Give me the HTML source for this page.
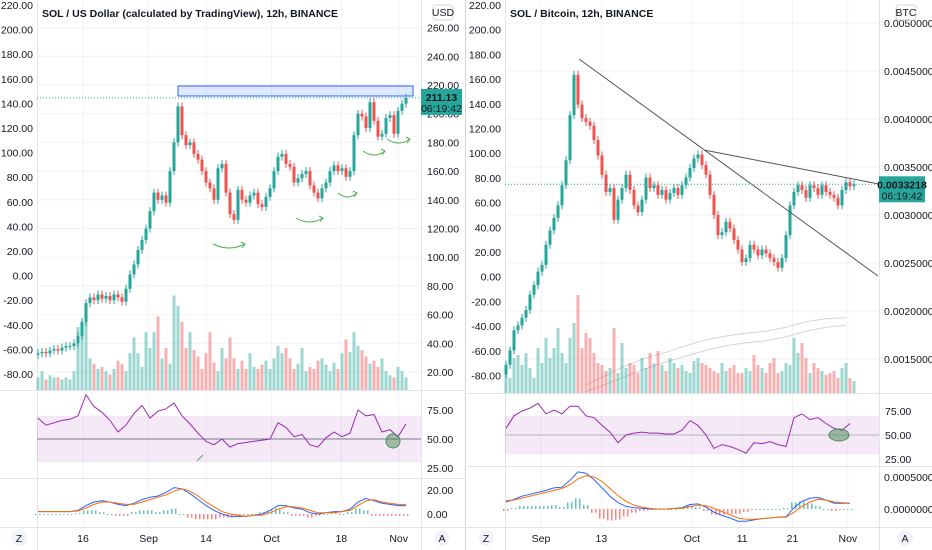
<!DOCTYPE html>
<html><head><meta charset="utf-8">
<style>
html,body{margin:0;padding:0;background:#fff;}
svg{display:block;font-family:"Liberation Sans",sans-serif;}
text{fill:#131722;font-size:10.5px;}
</style></head>
<body>
<svg id="chart" width="932" height="550" viewBox="0 0 932 550"></svg>
<script>
// ---------- DATA ----------
const leftAxisTicks = [220,200,180,160,140,120,100,80,60,40,20,0,-20,-40,-60,-80];
const usdTicks = [260,240,220,200,180,160,140,120,100,80,60,40,20];
const btcTicks = [50,45,40,35,30,25,20,15];
const timeLabelsL = ["16","Sep","14","Oct","18","Nov"];
const timeDaysL = [16,32,46,62,79,93];
const timeLabelsR = ["Sep","13","Oct","11","21","Nov"];
const timeDaysR = [8,20,38,48,58,69];
const closeUSD = [33,34,33,35,36,35,37,38,38,40,45,55,68,72,70,74,71,73,70,74,72,69,78,88,95,105,112,120,132,145,140,143,138,160,180,205,185,178,180,172,168,160,152,148,140,162,165,145,130,126,147,140,138,143,145,137,135,142,148,160,170,172,165,163,152,155,158,160,150,145,141,148,152,160,164,160,162,156,160,185,200,198,190,208,195,184,186,197,199,186,202,207,211];
const volUSD = [12,18,10,14,12,12,10,12,10,18,60,62,70,30,25,20,22,18,15,20,28,25,18,35,50,35,22,55,40,55,70,30,40,25,90,80,65,40,55,38,32,20,35,55,26,18,40,30,50,30,20,28,20,35,22,20,24,28,20,30,42,35,40,30,20,25,40,18,22,20,28,30,24,18,26,20,35,48,36,55,42,38,32,25,28,22,30,18,14,12,22,18,12];
const rsiL = [68,62,64,66,67,70,88,78,73,66,56,62,72,79,68,74,76,81,70,63,55,48,45,50,43,46,47,48,49,50,64,60,52,54,45,43,51,56,52,55,75,70,71,56,58,52,63];
const macdL = [2,2,2,2,2,3,7,10,11,10,8,7,9,12,14,15,18,22,21,17,12,7,3,0,-2,-2,-2,-1,0,3,7,7,5,4,1,0,1,2,2,4,10,13,11,9,8,7,7];
const signalL = [2,2,2,2,2,2.5,5,8,10,10,9,8,8,10,12,14,16,19,21,19,15,10,6,2,0,-1,-2,-1,-1,1,4,6,6,5,3,1,1,1,2,3,7,11,12,10,9,8,8];
const closeBTC = [14.4,15.9,18.0,18.5,19.3,20.1,21.7,22.7,24.1,24.8,26.9,28.4,29.7,31.0,33.1,35.7,40.4,44.6,41.5,40.1,39.7,39.3,37.8,36.2,34.2,32.4,32.8,29.5,31.6,32.8,34.2,32.6,31.0,30.3,31.6,33.9,32.8,33.1,32.1,32.6,31.6,32.3,32.8,32.1,33.1,33.9,34.9,35.9,36.3,35.2,34.2,32.1,30.0,27.9,28.2,29.3,28.6,27.4,26.4,25.1,25.5,26.9,26.4,25.8,26.4,26.0,25.5,25.1,24.5,25.5,27.9,31.0,32.4,33.1,32.6,31.8,33.1,32.8,32.1,33.1,32.4,32.1,31.8,31.0,32.6,33.4,33.0,33.2];
const volBTC = [20,15,35,38,28,40,25,15,45,30,55,35,45,65,40,30,55,70,98,45,60,55,40,30,28,22,25,65,20,50,25,30,28,20,35,25,40,30,42,28,22,35,30,25,28,22,20,32,35,30,28,25,22,20,30,22,25,28,20,20,25,22,38,28,25,20,30,35,20,22,30,28,55,40,50,35,20,30,25,22,18,20,22,15,25,30,15,12];
const maA = [12.3,13.3,14.3,15.1,15.7,16.4,17.0,17.4,17.7,17.9,18.3,18.9,19.2,19.3];
const maB = [11.6,12.4,13.2,14.0,14.7,15.3,15.9,16.4,16.7,16.9,17.3,17.9,18.3,18.5];
const rsiR = [57,70,75,78,83,72,76,72,80,80,70,68,60,53,42,50,52,53,52,52,51,51,55,65,60,50,36,40,38,35,31,42,41,43,40,38,68,72,66,68,62,57,55,62];
const macdR = [1.1,1.5,2.0,2.3,2.6,2.9,3.3,3.4,4.5,5.8,5.6,4.6,3.3,2.0,1.0,0.4,0.2,0.1,0.0,0.0,0.0,0.1,0.2,0.7,0.8,0.3,-0.5,-1.0,-1.4,-1.9,-1.9,-1.7,-1.5,-1.4,-1.3,-1.2,0.2,1.2,1.7,1.8,1.4,0.9,0.9,0.9];
const signalR = [1.3,1.4,1.7,2.0,2.3,2.6,2.9,3.2,3.8,4.7,5.2,5.0,4.3,3.2,2.1,1.2,0.6,0.3,0.1,0.0,0.0,0.1,0.1,0.4,0.6,0.5,0.1,-0.4,-0.9,-1.4,-1.6,-1.6,-1.5,-1.4,-1.3,-1.3,-0.5,0.4,1.1,1.5,1.4,1.1,1.0,0.9];

// ---------- HELPERS ----------
const svg = document.getElementById('chart');
const NS = 'http://www.w3.org/2000/svg';
function mk(tag, attrs, parent){
  const e = document.createElementNS(NS, tag);
  for (const k in attrs) e.setAttribute(k, attrs[k]);
  (parent||svg).appendChild(e);
  return e;
}
function txt(x,y,s,anchor,extra){
  const t = mk('text', Object.assign({x:x,y:y,'text-anchor':anchor||'start'}, extra||{}));
  t.textContent = s; return t;
}
const GREEN='#26a69a', RED='#ef5350';

const leftLblY = v => 5 + (220 - v) * 24.6 / 20;
const yL = p => 85 + (220 - p) * 1.435;
const xL = i => 38 + 4 * i;
const xLi = i => 38 + 8 * i;
const dayXL = d => 83 + (d - 16) * 4.1;
const rsiYL = v => 439 - (v - 50) * 1.16;
const macdYL = v => 514 - v * 1.2;
const yR = p => 23 + (50 - p) * 9.6;
const xR = i => 506 + 4 * i;
const xRi = i => 506 + 8 * i;
const maX = i => 586 + 20 * i;
const dayXR = d => 541 + (d - 8) * 5.03;
const rsiYR = v => 435 - (v - 50) * 0.96;
const macdYR = v => 509 - v * 6.4;

function drawCandles(close, xf, yf, volBase, volScale, vol, name){
  for (let i=0;i<close.length;i++){
    const o = i===0 ? close[0]-1 : close[i-1];
    const c = close[i];
    const up = c >= o;
    const col = up ? GREEN : RED;
    const x = xf(i);
    const vb = mk('rect',{x:x-1.5,y:volBase-vol[i]*volScale,width:3,height:vol[i]*volScale,fill:col,'fill-opacity':0.45});
    
    
    const yo = yf(o), yc = yf(c);
    const top = Math.min(yo,yc), bot = Math.max(yo,yc);
    const w = mk('line',{x1:x,x2:x,y1:top-4,y2:bot+4,stroke:col,'stroke-width':1});
    
    
    const b = mk('rect',{x:x-1.5,y:top,width:3,height:Math.max(1,bot-top),fill:col});
    
    
  }
}
function polyline(vals, xf, yf, stroke, width, name){
  const pts = vals.map((v,i)=>xf(i).toFixed(1)+','+yf(v).toFixed(1)).join(' ');
  const p = mk('polyline',{points:pts,fill:'none',stroke:stroke,'stroke-width':width});
  
  
}
function hist(m, s, xf, yf, name){
  for (let i=0;i<m.length;i++){
    const d = (m[i]-s[i])*1.5;
    const y0 = yf(0), y1 = yf(d);
    for (let k=0;k<2;k++){
      const r = mk('rect',{x:xf(i)-3+k*4,y:Math.min(y0,y1),width:1.5,height:Math.max(1,Math.abs(y1-y0)),fill:d>=0?GREEN:RED,'fill-opacity':0.7});
      
      
    }
  }
}

// ---------- LEFT PANEL ----------
(function(){
  usdTicks.forEach(v=>mk('line',{x1:37,x2:421,y1:yL(v),y2:yL(v),stroke:'#f0f3fa'}));
  timeDaysL.forEach(d=>mk('line',{x1:dayXL(d),x2:dayXL(d),y1:0,y2:527,stroke:'#f0f3fa'}));
  mk('line',{x1:421.5,x2:421.5,y1:0,y2:550,stroke:'#e0e3eb'});
  mk('line',{x1:37.5,x2:37.5,y1:0,y2:550,stroke:'#e0e3eb'});
  [390,478,527].forEach(y=>mk('line',{x1:0,x2:466,y1:y+.5,y2:y+.5,stroke:'#e0e3eb'}));
  mk('line',{x1:465.5,x2:465.5,y1:0,y2:550,stroke:'#d1d4dc'});
  leftAxisTicks.forEach(v=>txt(33,leftLblY(v)+4,v.toFixed(2),'end',{fill:'#444','font-size':'10px'}));
  usdTicks.forEach(v=>txt(427,yL(v)+4,v.toFixed(2)));
  const usd = mk('rect',{x:433,y:5,width:20,height:15,rx:3,fill:'#fff',stroke:'#d1d4dc'});
   
  txt(443,16,'USD','middle',{'font-size':'9px'});
  txt(42,17,'SOL / US Dollar (calculated by TradingView), 12h, BINANCE','start',{'font-size':'10px','font-weight':'bold',});
  const box = mk('rect',{x:178,y:86,width:235,height:10,fill:'rgba(41,98,255,0.15)',stroke:'#2962ff','stroke-width':1});
   
  drawCandles(closeUSD, xL, yL, 390, 1.05, volUSD, 'usd');
  const pl = yL(closeUSD[closeUSD.length-1]);
  mk('line',{x1:37,x2:421,y1:pl,y2:pl,stroke:GREEN,'stroke-dasharray':'1,2'});
  const tag = mk('rect',{x:421,y:pl-9,width:41,height:26,fill:GREEN});
   
  txt(441.5,pl+3,'211.13','middle',{fill:'#fff','font-size':'10px','font-weight':'bold'});
  txt(441.5,pl+14,'06:19:42','middle',{fill:'#fff','font-size':'9.5px'});
  [[213,245,248],[296,323,222],[338,357,197],[363,385,155],[387,410,143]].forEach(a=>{
    mk('path',{d:`M${a[0]},${a[2]-4} Q${(a[0]+a[1])/2},${a[2]+4} ${a[1]},${a[2]-4}`,fill:'none',stroke:'#4caf50','stroke-width':1});
    mk('path',{d:`M${a[1]-4},${a[2]-6} L${a[1]},${a[2]-4} L${a[1]-3},${a[2]}`,fill:'none',stroke:'#4caf50','stroke-width':1});
  });
  mk('rect',{x:37,y:rsiYL(70),width:384,height:rsiYL(30)-rsiYL(70),fill:'rgba(156,39,176,0.1)'});
  mk('line',{x1:37,x2:421,y1:rsiYL(50),y2:rsiYL(50),stroke:'#787b86'});
  polyline(rsiL, xLi, rsiYL, '#9c27b0', 1, 'rsi-line-left');
  [75,50,25].forEach(v=>txt(427,rsiYL(v)+4,v.toFixed(2)));
  mk('circle',{cx:393,cy:441,r:7,fill:'rgba(76,140,90,0.5)',stroke:'#4c8c5a'});
  mk('line',{x1:197,x2:203,y1:461,y2:455,stroke:'#4caf50'});
  hist(macdL, signalL, xLi, macdYL, 'macd-hist-left');
  polyline(macdL, xLi, macdYL, '#2962ff', 1, 'macd-line-left');
  polyline(signalL, xLi, macdYL, '#ff6d00', 1, 'signal-line-left');
  [20,0].forEach(v=>txt(427,macdYL(v)+4,v.toFixed(2)));
  timeLabelsL.forEach((s,i)=>txt(dayXL(timeDaysL[i]),542,s,'middle'));
  mk('circle',{cx:19,cy:538,r:8,fill:'#f0f3fa'}); txt(19,542,'Z','middle',{'font-size':'10px',fill:'#555'});
  mk('circle',{cx:442,cy:538,r:8,fill:'#f0f3fa'}); txt(442,542,'A','middle',{'font-size':'10px',fill:'#555'});
})();

// ---------- RIGHT PANEL ----------
(function(){
  mk('rect',{x:467,y:0,width:465,height:550,fill:'#fff'});
  btcTicks.forEach(v=>mk('line',{x1:505,x2:879,y1:yR(v),y2:yR(v),stroke:'#f0f3fa'}));
  timeDaysR.forEach(d=>mk('line',{x1:dayXR(d),x2:dayXR(d),y1:0,y2:527,stroke:'#f0f3fa'}));
  mk('line',{x1:879.5,x2:879.5,y1:0,y2:550,stroke:'#e0e3eb'});
  mk('line',{x1:505.5,x2:505.5,y1:0,y2:550,stroke:'#e0e3eb'});
  [393,466,527].forEach(y=>mk('line',{x1:467,x2:932,y1:y+.5,y2:y+.5,stroke:'#e0e3eb'}));
  leftAxisTicks.forEach(v=>txt(501,5+(220-v)*24.7/20+4,v.toFixed(2),'end',{fill:'#444','font-size':'10px'}));
  btcTicks.forEach(v=>txt(884,yR(v)+4,(v/10000).toFixed(7),'start',{'font-size':'10px'}));
  const btcb = mk('rect',{x:896,y:5,width:20,height:15,rx:3,fill:'#fff',stroke:'#d1d4dc'});
   
  txt(906,16,'BTC','middle',{'font-size':'9px'});
  txt(510,17,'SOL / Bitcoin, 12h, BINANCE','start',{'font-size':'10px','font-weight':'bold',});
  polyline(maA, maX, yR, '#d1d4dc', 1, 'ma-line-a');
  polyline(maB, maX, yR, '#d1d4dc', 1, 'ma-line-b');
  drawCandles(closeBTC, xR, yR, 393, 1.0, volBTC, 'btc');
  const t1 = mk('line',{x1:579,y1:59,x2:878,y2:276,stroke:'#555','stroke-width':1});
   
  const t2 = mk('line',{x1:704,y1:150,x2:879,y2:184,stroke:'#555','stroke-width':1});
   
  const pl = yR(closeBTC[closeBTC.length-1]);
  mk('line',{x1:505,x2:879,y1:pl,y2:pl,stroke:GREEN,'stroke-dasharray':'1,2'});
  const tag = mk('rect',{x:879,y:pl-8,width:46,height:26,fill:GREEN});
   
  txt(902,pl+4,'0.0033218','middle',{fill:'#fff','font-size':'9px','font-weight':'bold'});
  txt(902,pl+15,'06:19:42','middle',{fill:'#fff','font-size':'9px'});
  mk('rect',{x:505,y:rsiYR(70),width:374,height:rsiYR(30)-rsiYR(70),fill:'rgba(156,39,176,0.1)'});
  mk('line',{x1:505,x2:879,y1:rsiYR(50),y2:rsiYR(50),stroke:'#b2b5be'});
  polyline(rsiR, xRi, rsiYR, '#9c27b0', 1, 'rsi-line-right');
  [75,50,25].forEach(v=>txt(885,rsiYR(v)+4,v.toFixed(2)));
  mk('ellipse',{cx:839,cy:435,rx:10,ry:6,fill:'rgba(76,140,90,0.55)',stroke:'#4c8c5a'});
  hist(macdR, signalR, xRi, macdYR, 'macd-hist-right');
  polyline(macdR, xRi, macdYR, '#2962ff', 1, 'macd-line-right');
  polyline(signalR, xRi, macdYR, '#ff6d00', 1, 'signal-line-right');
  txt(884,macdYR(5)+4,'0.0005000','start',{'font-size':'10px'}); txt(884,macdYR(0)+4,'0.0000000','start',{'font-size':'10px'});
  timeLabelsR.forEach((s,i)=>txt(dayXR(timeDaysR[i]),542,s,'middle'));
  mk('circle',{cx:486,cy:538,r:8,fill:'#f0f3fa'}); txt(486,542,'Z','middle',{'font-size':'10px',fill:'#555'});
  mk('circle',{cx:905,cy:538,r:8,fill:'#f0f3fa'}); txt(905,542,'A','middle',{'font-size':'10px',fill:'#555'});
})();
</script>
</body></html>
